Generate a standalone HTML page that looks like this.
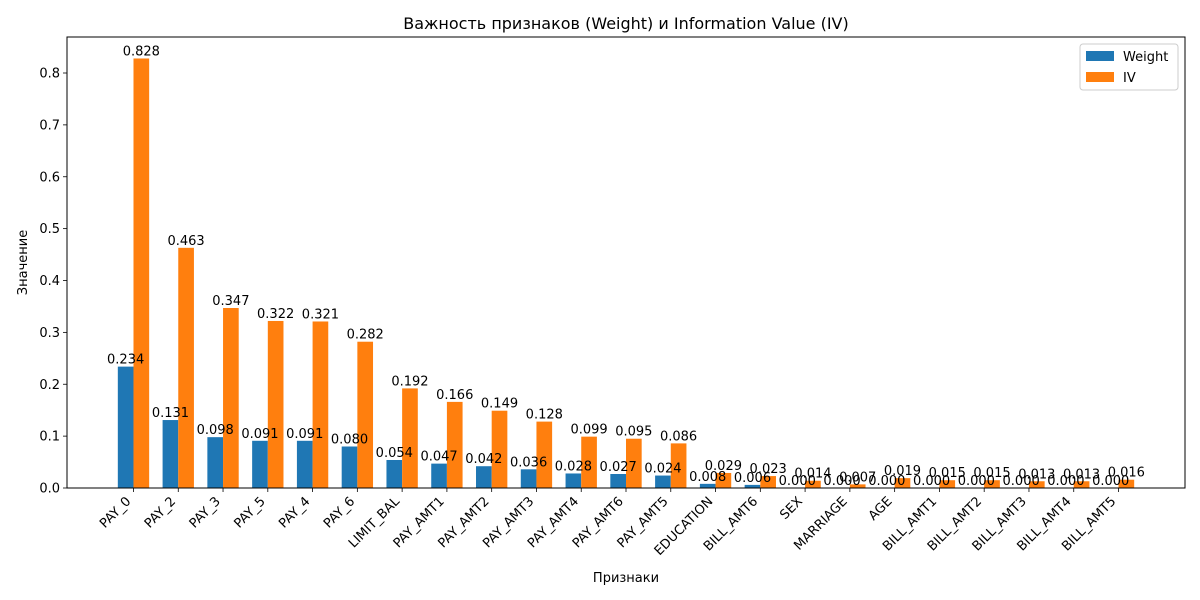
<!DOCTYPE html>
<html><head><meta charset="utf-8">
<style>
html,body{margin:0;padding:0;background:#fff;}
svg{display:block;font-family:"DejaVu Sans","Liberation Sans",sans-serif;}
</style></head>
<body>
<svg id="chart" width="1200" height="600" viewBox="0 0 1200 600"></svg>
<script>
const categories=["PAY_0","PAY_2","PAY_3","PAY_5","PAY_4","PAY_6","LIMIT_BAL","PAY_AMT1","PAY_AMT2","PAY_AMT3","PAY_AMT4","PAY_AMT6","PAY_AMT5","EDUCATION","BILL_AMT6","SEX","MARRIAGE","AGE","BILL_AMT1","BILL_AMT2","BILL_AMT3","BILL_AMT4","BILL_AMT5"];
const weightValues=[0.234,0.131,0.098,0.091,0.091,0.080,0.054,0.047,0.042,0.036,0.028,0.027,0.024,0.008,0.006,0.000,0.000,0.000,0.000,0.000,0.000,0.000,0.000];
const ivValues=[0.828,0.463,0.347,0.322,0.321,0.282,0.192,0.166,0.149,0.128,0.099,0.095,0.086,0.029,0.023,0.014,0.007,0.019,0.015,0.015,0.013,0.013,0.016];
const yTicks=[0,0.1,0.2,0.3,0.4,0.5,0.6,0.7,0.8];

const NS="http://www.w3.org/2000/svg";
const svg=document.getElementById('chart');
const L=67,R=1185,T=37,B=488;
const yMax=0.8694;
const xMin=-1.485,xMax=categories.length-1+1.485;
function xs(v){return L+(v-xMin)/(xMax-xMin)*(R-L);}
function ys(v){return B-v/yMax*(B-T);}
function mk(tag,attrs,parent){const e=document.createElementNS(NS,tag);for(const k in attrs)e.setAttribute(k,attrs[k]);(parent||svg).appendChild(e);return e;}
const bw=0.35;
categories.forEach((c,i)=>{
  const x0=xs(i-bw),x1=xs(i),x2=xs(i+bw);
  const wb=mk('rect',{x:x0,y:ys(weightValues[i]),width:x1-x0,height:B-ys(weightValues[i]),fill:'#1f77b4'});
  
  
  const ib=mk('rect',{x:x1,y:ys(ivValues[i]),width:x2-x1,height:B-ys(ivValues[i]),fill:'#ff7f0e'});
  
  
  const wl=mk('text',{x:(x0+x1)/2,y:ys(weightValues[i])-3,'text-anchor':'middle','font-size':13,fill:'#000'});
  wl.textContent=weightValues[i].toFixed(3);
  
  
  const il=mk('text',{x:(x1+x2)/2,y:ys(ivValues[i])-3,'text-anchor':'middle','font-size':13,fill:'#000'});
  il.textContent=ivValues[i].toFixed(3);
  
  
  const cx=xs(i);
  mk('line',{x1:cx,y1:B,x2:cx,y2:B+4,stroke:'#000','stroke-width':0.8});
  const tl=mk('text',{x:cx-2,y:B+14,'text-anchor':'end','font-size':13,fill:'#000',transform:`rotate(-45 ${cx-2} ${B+14})`});
  tl.textContent=c;
  
  
});
yTicks.forEach(t=>{
  const y=ys(t);
  mk('line',{x1:L-4,y1:y,x2:L,y2:y,stroke:'#000','stroke-width':0.8});
  const tl=mk('text',{x:L-7,y:y+4.5,'text-anchor':'end','font-size':13,fill:'#000'});
  tl.textContent=t.toFixed(1);
  
  
});
const frame=mk('rect',{x:L,y:T,width:R-L,height:B-T,fill:'none',stroke:'#000','stroke-width':1});


const title=mk('text',{x:(L+R)/2,y:29,'text-anchor':'middle','font-size':16,fill:'#000'});
title.textContent='Важность признаков (Weight) и Information Value (IV)';


const xt=mk('text',{x:(L+R)/2,y:582,'text-anchor':'middle','font-size':13,fill:'#000'});
xt.textContent='Признаки';


const yt=mk('text',{x:27,y:(T+B)/2,'text-anchor':'middle','font-size':13,fill:'#000',transform:`rotate(-90 27 ${(T+B)/2})`});
yt.textContent='Значение';


const lg=mk('g',{});


mk('rect',{x:1080,y:44,width:98,height:46,rx:3,fill:'#fff',stroke:'#ccc','stroke-width':1},lg);
mk('rect',{x:1086,y:51,width:28,height:10,fill:'#1f77b4'},lg);
mk('rect',{x:1086,y:72,width:28,height:10,fill:'#ff7f0e'},lg);
const l1=mk('text',{x:1123,y:61,'font-size':13,fill:'#000'},lg);l1.textContent='Weight';


const l2=mk('text',{x:1123,y:82,'font-size':13,fill:'#000'},lg);l2.textContent='IV';


</script>
</body></html>
